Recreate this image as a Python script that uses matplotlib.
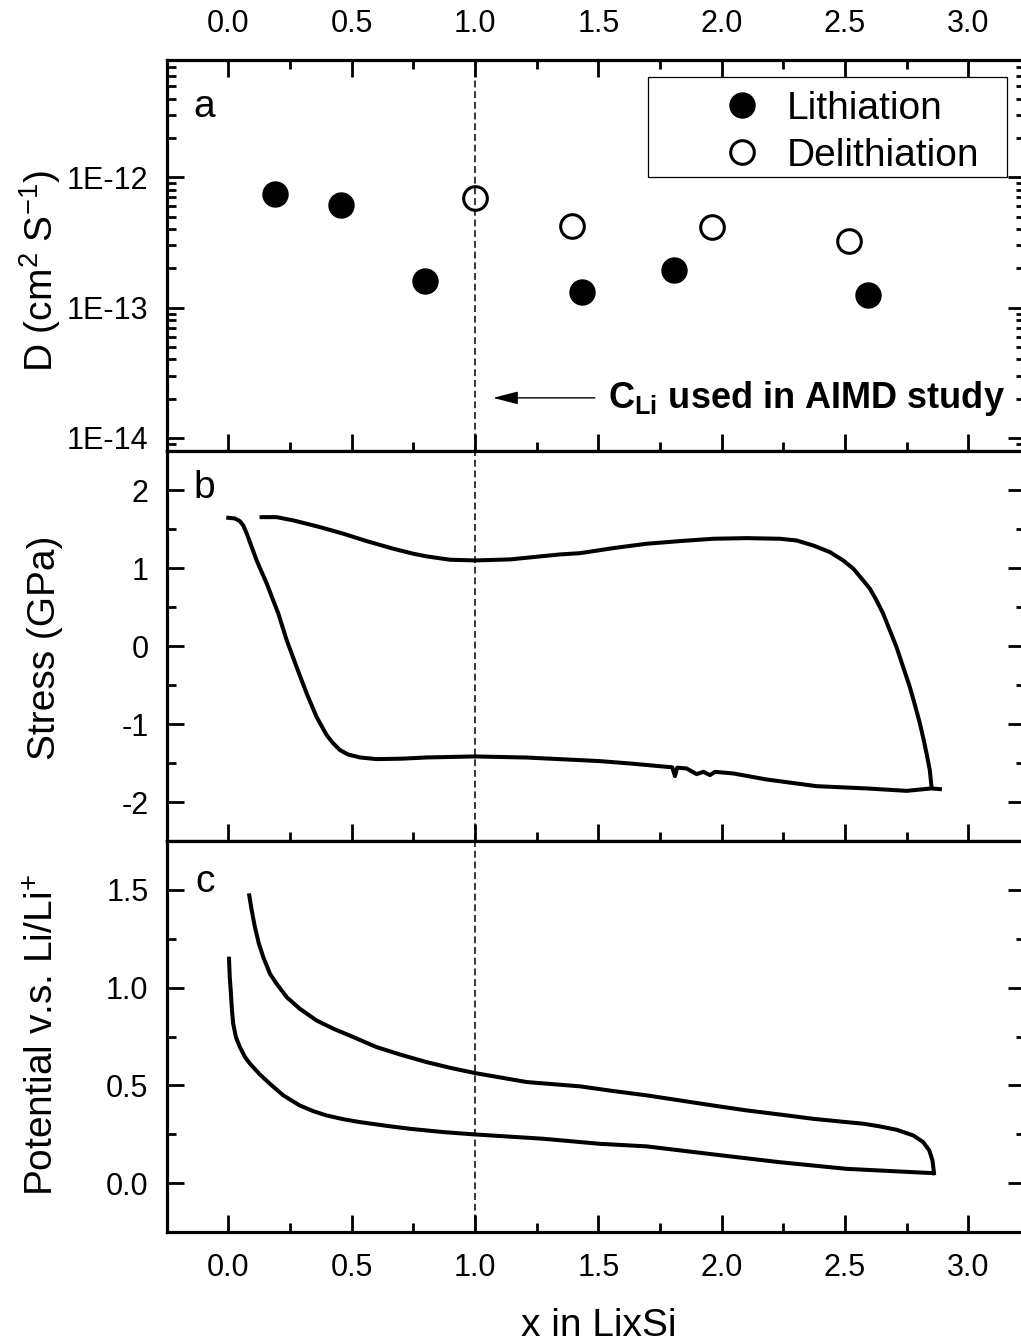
import matplotlib
matplotlib.use('Agg')
import matplotlib.pyplot as plt
from matplotlib.ticker import FixedLocator, MultipleLocator, FormatStrFormatter, FixedFormatter, NullFormatter
from matplotlib.patches import Rectangle

plt.rcParams.update({
    'font.family': ['Liberation Sans', 'DejaVu Sans'],
    'mathtext.fontset': 'custom',
    'mathtext.rm': 'Liberation Sans',
    'mathtext.it': 'Liberation Sans:italic',
    'mathtext.bf': 'Liberation Sans:bold',
    'axes.unicode_minus': False,
})

# ---------------- data ----------------
lith_x = [0.19, 0.456, 0.797, 1.436, 1.807, 2.594]
lith_D = [7.4e-13, 6.1e-13, 1.61e-13, 1.31e-13, 1.96e-13, 1.24e-13]
delith_x = [1.0, 1.395, 1.963, 2.517]
delith_D = [6.9e-13, 4.23e-13, 4.13e-13, 3.27e-13]

stress_lith_x = [0.0, 0.027, 0.047, 0.061, 0.075, 0.095, 0.115, 0.156, 0.203, 0.237, 0.277, 0.318,
                 0.358, 0.399, 0.426, 0.453, 0.486, 0.534, 0.601, 0.70, 0.804, 1.0, 1.21, 1.426,
                 1.507, 1.628, 1.777, 1.80, 1.811, 1.82, 1.858, 1.899, 1.926, 1.953, 1.973,
                 2.047, 2.182, 2.385, 2.588, 2.75, 2.851, 2.885]
stress_lith_y = [1.644, 1.635, 1.60, 1.545, 1.44, 1.27, 1.097, 0.80, 0.415, 0.073, -0.269, -0.61,
                 -0.909, -1.143, -1.25, -1.335, -1.391, -1.429, -1.45, -1.445, -1.429, -1.416, -1.43, -1.463,
                 -1.476, -1.506, -1.549, -1.555, -1.668, -1.56, -1.57, -1.643, -1.613, -1.655, -1.613,
                 -1.634, -1.711, -1.797, -1.826, -1.857, -1.826, -1.835]

stress_delith_x = [0.135, 0.196, 0.264, 0.372, 0.466, 0.561, 0.669, 0.75, 0.804, 0.899, 1.0, 1.142,
                   1.345, 1.426, 1.561, 1.696, 1.831, 1.966, 2.101, 2.236, 2.304, 2.371, 2.439,
                   2.493, 2.534, 2.574, 2.601, 2.628, 2.655, 2.682, 2.709, 2.736, 2.763, 2.784,
                   2.804, 2.818, 2.831, 2.844, 2.851]
stress_delith_y = [1.652, 1.652, 1.61, 1.524, 1.44, 1.345, 1.247, 1.183, 1.149, 1.106, 1.097, 1.11,
                   1.174, 1.19, 1.255, 1.311, 1.345, 1.375, 1.383, 1.375, 1.353, 1.289, 1.204,
                   1.097, 0.991, 0.841, 0.735, 0.585, 0.415, 0.201, -0.013, -0.269, -0.525, -0.759,
                   -0.994, -1.186, -1.378, -1.591, -1.805]

pot_lith_x = [0.003, 0.006, 0.010, 0.015, 0.020, 0.031, 0.047, 0.068, 0.088, 0.128, 0.169, 0.223,
              0.29, 0.345, 0.399, 0.466, 0.534, 0.642, 0.736, 0.872, 1.0, 1.277, 1.507, 1.696,
              1.966, 2.236, 2.507, 2.777, 2.858]
pot_lith_y = [1.148, 1.054, 0.986, 0.883, 0.815, 0.747, 0.696, 0.645, 0.611, 0.556, 0.508, 0.449,
              0.397, 0.368, 0.346, 0.327, 0.312, 0.293, 0.278, 0.261, 0.249, 0.227, 0.201, 0.188,
              0.147, 0.107, 0.073, 0.056, 0.051]

pot_delith_x = [2.861, 2.855, 2.842, 2.817, 2.777, 2.709, 2.642, 2.574, 2.507, 2.371, 2.236, 2.101,
                1.966, 1.831, 1.696, 1.561, 1.426, 1.21, 1.0, 0.899, 0.804, 0.696, 0.601, 0.507,
                0.426, 0.358, 0.29, 0.237, 0.196, 0.169, 0.142, 0.124, 0.108, 0.095, 0.085]
pot_delith_y = [0.051, 0.116, 0.167, 0.21, 0.244, 0.273, 0.29, 0.304, 0.312, 0.329, 0.351, 0.372,
                0.397, 0.423, 0.449, 0.471, 0.495, 0.517, 0.563, 0.59, 0.619, 0.658, 0.696, 0.747,
                0.79, 0.832, 0.892, 0.951, 1.02, 1.071, 1.156, 1.225, 1.31, 1.395, 1.472]

x_major = [0.0, 0.5, 1.0, 1.5, 2.0, 2.5, 3.0]
d_major = [1e-14, 1e-13, 1e-12]
d_labels = ['1E-14', '1E-13', '1E-12']
stress_major = [-2, -1, 0, 1, 2]
pot_major = [0.0, 0.5, 1.0, 1.5]

# ---------------- layout ----------------
W_PX, H_PX = 1021, 1342
fig = plt.figure(figsize=(W_PX / 100, H_PX / 100), dpi=100)
left_px, right_px = 166.6, 1025.0
L = left_px / W_PX
W = (right_px - left_px) / W_PX

ax_a = fig.add_axes([L, 1 - 451 / H_PX, W, 391 / H_PX])
ax_b = fig.add_axes([L, 1 - 841 / H_PX, W, 390 / H_PX])
ax_c = fig.add_axes([L, 1 - 1232 / H_PX, W, 391 / H_PX])

XLIM = (-0.25, 3.23)
LBL = 28
TICKLBL = 22
LW = 2.9

for ax in (ax_a, ax_b, ax_c):
    ax.set_xlim(XLIM)
    for s in ax.spines.values():
        s.set_linewidth(2.3)
    ax.xaxis.set_major_locator(FixedLocator(x_major))
    ax.xaxis.set_minor_locator(MultipleLocator(0.25))
    ax.xaxis.set_major_formatter(FormatStrFormatter('%.1f'))
    ax.tick_params(which='both', direction='in', width=2.0, right=True, top=False,
                   labelsize=TICKLBL)
    ax.tick_params(which='major', length=12)
    ax.tick_params(which='minor', length=6.7)
    ax.tick_params(axis='y', pad=13)
    ax.tick_params(axis='x', pad=15, labelbottom=False)
    ax.axvline(1.0, color='k', lw=1.1, dashes=(4.5, 2.5), zorder=1)

# ---------------- panel a ----------------
ax_a.set_yscale('log')
ax_a.set_ylim(7.94e-15, 7.94e-12)
ax_a.yaxis.set_major_locator(FixedLocator(d_major))
ax_a.yaxis.set_major_formatter(FixedFormatter(d_labels))
minor_d = [m * 10.0 ** e for e in (-15, -14, -13, -12) for m in range(2, 10)]
ax_a.yaxis.set_minor_locator(FixedLocator(minor_d))
ax_a.yaxis.set_minor_formatter(NullFormatter())
ax_a.tick_params(axis='x', which='both', top=True, labeltop=True, labelbottom=False)

h_l, = ax_a.plot(lith_x, lith_D, 'o', ls='none', ms=18, mfc='k', mec='k', mew=1,
                 label='Lithiation', zorder=3)
h_d, = ax_a.plot(delith_x, delith_D, 'o', ls='none', ms=17, mfc='none', mec='k', mew=2.2,
                 label='Delithiation', zorder=3)

ax_w = right_px - left_px
leg = ax_a.legend(handles=[h_l, h_d], loc='upper left',
                  bbox_to_anchor=((722.25 - left_px) / ax_w, (451 - 90.6) / 391),
                  frameon=False, fontsize=LBL, handlelength=1.0, handletextpad=0.657,
                  borderpad=0, borderaxespad=0, labelspacing=0.29, numpoints=1)
ax_a.add_patch(Rectangle(((648 - left_px) / ax_w, (451 - 176.7) / 391),
                         (1007 - 648) / ax_w, 100 / 391, transform=ax_a.transAxes,
                         fill=False, ec='k', lw=0.9, clip_on=False, zorder=5))

ax_a.annotate('', xy=(1.073, 2.03e-14), xytext=(1.486, 2.03e-14),
              arrowprops=dict(arrowstyle='-|>,head_length=1.1,head_width=0.28',
                              mutation_scale=14, lw=1.0, color='k',
                              shrinkA=0, shrinkB=0))
ax_a.text(1.539, 1.71e-14, r'$\mathbf{C_{Li}}$ used in AIMD study', fontsize=26,
          fontweight='bold', ha='left', va='baseline')

ax_a.set_ylabel(r'D (cm$^{2}$ S$^{-1}$)', fontsize=LBL)
ax_a.yaxis.set_label_coords((63 - left_px) / ax_w, 0.46)
ax_a.text((193 - left_px) / ax_w, (451 - 117) / 391, 'a', transform=ax_a.transAxes,
          fontsize=LBL, ha='left', va='baseline')

# ---------------- panel b ----------------
ax_b.set_ylim(-2.5, 2.5)
ax_b.yaxis.set_major_locator(FixedLocator(stress_major))
ax_b.yaxis.set_minor_locator(MultipleLocator(0.5))
ax_b.yaxis.set_major_formatter(FormatStrFormatter('%d'))
ax_b.plot(stress_lith_x, stress_lith_y, color='k', lw=LW, solid_joinstyle='round')
ax_b.plot(stress_delith_x, stress_delith_y, color='k', lw=LW, solid_joinstyle='round')
ax_b.set_ylabel('Stress (GPa)', fontsize=LBL)
ax_b.yaxis.set_label_coords((63 - left_px) / ax_w, 0.495)
ax_b.text((193 - left_px) / ax_w, (841 - 498) / 390, 'b', transform=ax_b.transAxes,
          fontsize=LBL, ha='left', va='baseline')

# ---------------- panel c ----------------
ax_c.set_ylim(-0.25, 1.75)
ax_c.yaxis.set_major_locator(FixedLocator(pot_major))
ax_c.yaxis.set_minor_locator(MultipleLocator(0.25))
ax_c.yaxis.set_major_formatter(FormatStrFormatter('%.1f'))
ax_c.tick_params(axis='x', labelbottom=True)
ax_c.plot(pot_lith_x, pot_lith_y, color='k', lw=LW, solid_joinstyle='round')
ax_c.plot(pot_delith_x, pot_delith_y, color='k', lw=LW, solid_joinstyle='round')
ax_c.set_ylabel(r'Potential v.s. Li/Li$^{+}$', fontsize=LBL)
ax_c.yaxis.set_label_coords((61 - left_px) / ax_w, 0.504)
ax_c.set_xlabel('x in LixSi', fontsize=LBL)
ax_c.xaxis.set_label_coords((599 - left_px) / ax_w, (1232 - 1307.5) / 391)
ax_c.text((195 - left_px) / ax_w, (1232 - 891.7) / 391, 'c', transform=ax_c.transAxes,
          fontsize=LBL, ha='left', va='baseline')

fig.savefig('out.png', dpi=100)
